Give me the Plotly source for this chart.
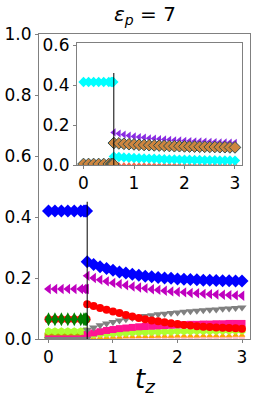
import plotly.graph_objects as go

# ---------------- data ----------------
t_before = [0.0, 0.1, 0.2, 0.3, 0.4, 0.5, 0.55, 0.57, 0.59]
t_after = [0.6, 0.7, 0.8, 0.9, 1.0, 1.1, 1.2, 1.3, 1.4, 1.5, 1.6, 1.7, 1.8,
           1.9, 2.0, 2.1, 2.2, 2.3, 2.4, 2.5, 2.6, 2.7, 2.8, 2.9, 3.0]
t_switch = 0.6
line_top_main = 0.45
line_top_inset = 0.46

# main panel series: (before value, after values)
blue_before = 0.42
blue_after = [0.253, 0.244, 0.237, 0.231, 0.225, 0.220, 0.216, 0.212, 0.209, 0.206, 0.204, 0.202, 0.200,
              0.199, 0.197, 0.196, 0.195, 0.194, 0.193, 0.193, 0.192, 0.191, 0.191, 0.190, 0.190]
magenta_before = 0.164
magenta_after = [0.207, 0.200, 0.194, 0.189, 0.184, 0.180, 0.176, 0.172, 0.169, 0.166, 0.163, 0.161, 0.158,
                 0.156, 0.154, 0.153, 0.151, 0.150, 0.148, 0.147, 0.146, 0.145, 0.144, 0.143, 0.142]
red_before = 0.065
red_after = [0.114, 0.108, 0.102, 0.096, 0.090, 0.085, 0.079, 0.074, 0.069, 0.065, 0.061, 0.058, 0.055,
             0.052, 0.049, 0.046, 0.044, 0.042, 0.040, 0.039, 0.038, 0.037, 0.036, 0.035, 0.034]
gray_before = 0.0
gray_after = [0.030, 0.038, 0.045, 0.051, 0.056, 0.061, 0.065, 0.069, 0.072, 0.075, 0.078, 0.081, 0.083,
              0.085, 0.087, 0.089, 0.091, 0.093, 0.094, 0.096, 0.097, 0.099, 0.100, 0.102, 0.103]
pink_before = 0.0
pink_after = [0.015, 0.020, 0.024, 0.028, 0.031, 0.034, 0.036, 0.038, 0.040, 0.041, 0.042, 0.043, 0.044,
              0.045, 0.046, 0.047, 0.048, 0.048, 0.049, 0.049, 0.050, 0.050, 0.051, 0.051, 0.051]
lime_before = 0.025
lime_after = [0.012, 0.014, 0.016, 0.017, 0.018, 0.019, 0.020, 0.021, 0.022, 0.022, 0.023, 0.023, 0.024,
              0.024, 0.025, 0.025, 0.025, 0.026, 0.026, 0.026, 0.026, 0.027, 0.027, 0.027, 0.027]
orange_before = 0.0
orange_after = [0.002, 0.003, 0.004, 0.005, 0.006, 0.006, 0.007, 0.007, 0.008, 0.008, 0.008, 0.009, 0.009,
                0.009, 0.010, 0.010, 0.010, 0.010, 0.011, 0.011, 0.011, 0.011, 0.011, 0.012, 0.012]
lpink_before = 0.0
lpink_after = [0.004, 0.004, 0.004, 0.005, 0.005, 0.005, 0.005, 0.005, 0.005, 0.005, 0.006, 0.006, 0.006,
               0.006, 0.006, 0.006, 0.006, 0.006, 0.006, 0.006, 0.006, 0.006, 0.006, 0.006, 0.006]
green_before = 0.065
olive_before = 0.008

# inset series
cyan_before = 0.415
cyan_after = [0.042, 0.040, 0.038, 0.036, 0.035, 0.034, 0.033, 0.032, 0.031, 0.030, 0.029, 0.028, 0.028,
              0.027, 0.026, 0.026, 0.025, 0.025, 0.024, 0.024, 0.024, 0.023, 0.023, 0.023, 0.022]
purple_before = 0.003
purple_after = [0.163, 0.157, 0.152, 0.147, 0.143, 0.140, 0.137, 0.134, 0.132, 0.130, 0.128, 0.126, 0.124,
                0.123, 0.121, 0.120, 0.119, 0.118, 0.117, 0.116, 0.115, 0.114, 0.113, 0.112, 0.111]
peru_before = 0.005
peru_after = [0.110, 0.108, 0.106, 0.104, 0.103, 0.101, 0.100, 0.099, 0.098, 0.097, 0.096, 0.095, 0.094,
              0.094, 0.093, 0.092, 0.092, 0.091, 0.091, 0.090, 0.090, 0.089, 0.089, 0.088, 0.088]
tomato_after = [0.003, 0.003, 0.003, 0.003, 0.003, 0.003, 0.003, 0.003, 0.003, 0.003, 0.003, 0.003, 0.003,
                0.003, 0.003, 0.003, 0.003, 0.003, 0.003, 0.003, 0.003, 0.003, 0.003, 0.003, 0.003]

x_ticks = [0, 1, 2, 3]
main_y_ticks = [0.0, 0.2, 0.4, 0.6, 0.8, 1.0]
inset_y_ticks = [0.0, 0.2, 0.4, 0.6]

# ---------------- figure ----------------
fig = go.Figure()

def add(xs, ys, color, symbol, size, axes, edge=None, ew=0):
    fig.add_trace(go.Scatter(
        x=xs, y=ys, mode="markers", xaxis=axes[0], yaxis=axes[1],
        marker=dict(color=color, symbol=symbol, size=size,
                    line=dict(color=edge if edge else color, width=ew)),
        showlegend=False, hoverinfo="skip"))

M = ("x", "y")
I = ("x2", "y2")
nb = len(t_before)

add(t_before + t_after, [lpink_before] * nb + lpink_after, "pink", "circle", 6, M)
add(t_before + t_after, [orange_before] * nb + orange_after, "orange", "triangle-up", 6, M)
add(t_before, [olive_before] * nb, "#b5a800", "square", 8, M)
add(t_before + t_after, [lime_before] * nb + lime_after, "greenyellow", "hexagon", 8, M)
add(t_before + t_after, [pink_before] * nb + pink_after, "deeppink", "square", 7, M)
add(t_before + t_after, [gray_before] * nb + gray_after, "gray", "triangle-down", 8, M)
add(t_before + t_after, [red_before] * nb + red_after, "red", "circle", 8, M)
add(t_before, [green_before] * nb, "green", "diamond-tall", 10, M)
add(t_before + t_after, [magenta_before] * nb + magenta_after, "#bf00bf", "triangle-left", 9, M)
add(t_before + t_after, [blue_before] * nb + blue_after, "blue", "diamond", 10, M)

add(t_after, tomato_after, "tomato", "triangle-up", 5, I)
add(t_before + t_after, [cyan_before] * nb + cyan_after, "cyan", "diamond", 8, I)
add(t_before + t_after, [purple_before] * nb + purple_after, "blueviolet", "triangle-left", 7, I)
add(t_before + t_after, [peru_before] * nb + peru_after, "peru", "diamond", 9, I, "darkslategray", 1)

W, H = 258, 403
def px(x0, x1):
    return [x0 / W, x1 / W]
def py(y0, y1):  # y0 top pixel, y1 bottom pixel
    return [1 - y1 / H, 1 - y0 / H]

spine = "#808080"
tickfont = dict(family="DejaVu Sans", size=17, color="black")
common = dict(showline=True, linecolor=spine, linewidth=1, mirror=True, showgrid=False,
              zeroline=False, ticks="outside", ticklen=3, tickcolor=spine, tickfont=tickfont,
              automargin=False)

fig.update_layout(
    width=W, height=H, margin=dict(l=0, r=0, t=0, b=0, autoexpand=False),
    paper_bgcolor="white", plot_bgcolor="rgba(0,0,0,0)",
    xaxis=dict(domain=px(39, 250), range=[-0.147, 3.124], tickvals=x_ticks,
               ticktext=[str(v) for v in x_ticks], anchor="y", **common),
    yaxis=dict(domain=py(34, 339), range=[0, 1.0], tickvals=main_y_ticks,
               ticktext=[f"{v:.1f}" for v in main_y_ticks], anchor="x", **common),
    xaxis2=dict(domain=px(77, 242), range=[-0.129, 3.139], tickvals=x_ticks,
                ticktext=[str(v) for v in x_ticks], anchor="y2", **common),
    yaxis2=dict(domain=py(43, 165), range=[0, 0.61], tickvals=inset_y_ticks,
                ticktext=[f"{v:.1f}" for v in inset_y_ticks], anchor="x2", **common),
    shapes=[
        dict(type="rect", xref="x2 domain", yref="y2 domain", x0=0, x1=1, y0=0, y1=1,
             fillcolor="white", line=dict(width=0), layer="below"),
        dict(type="line", xref="x", yref="y", x0=t_switch, x1=t_switch, y0=0, y1=line_top_main,
             line=dict(color="black", width=1)),
        dict(type="line", xref="x2", yref="y2", x0=t_switch, x1=t_switch, y0=0, y1=line_top_inset,
             line=dict(color="black", width=1)),
    ],
    annotations=[
        dict(text="<i>ε</i><sub><i>p</i></sub> = 7", x=145 / W, y=1 - 15 / H, xref="paper", yref="paper",
             showarrow=False, font=dict(family="DejaVu Sans", size=20, color="black"),
             xanchor="center", yanchor="middle"),
        dict(text="<i>t</i><sub><i>z</i></sub>", x=145 / W, y=1 - 380 / H, xref="paper", yref="paper",
             showarrow=False, font=dict(family="DejaVu Sans", size=26, color="black"),
             xanchor="center", yanchor="middle"),
    ],
)

fig.write_html("out.html", config={"displayModeBar": False},
               post_script="document.body.style.margin='0';document.body.style.overflow='hidden';")
